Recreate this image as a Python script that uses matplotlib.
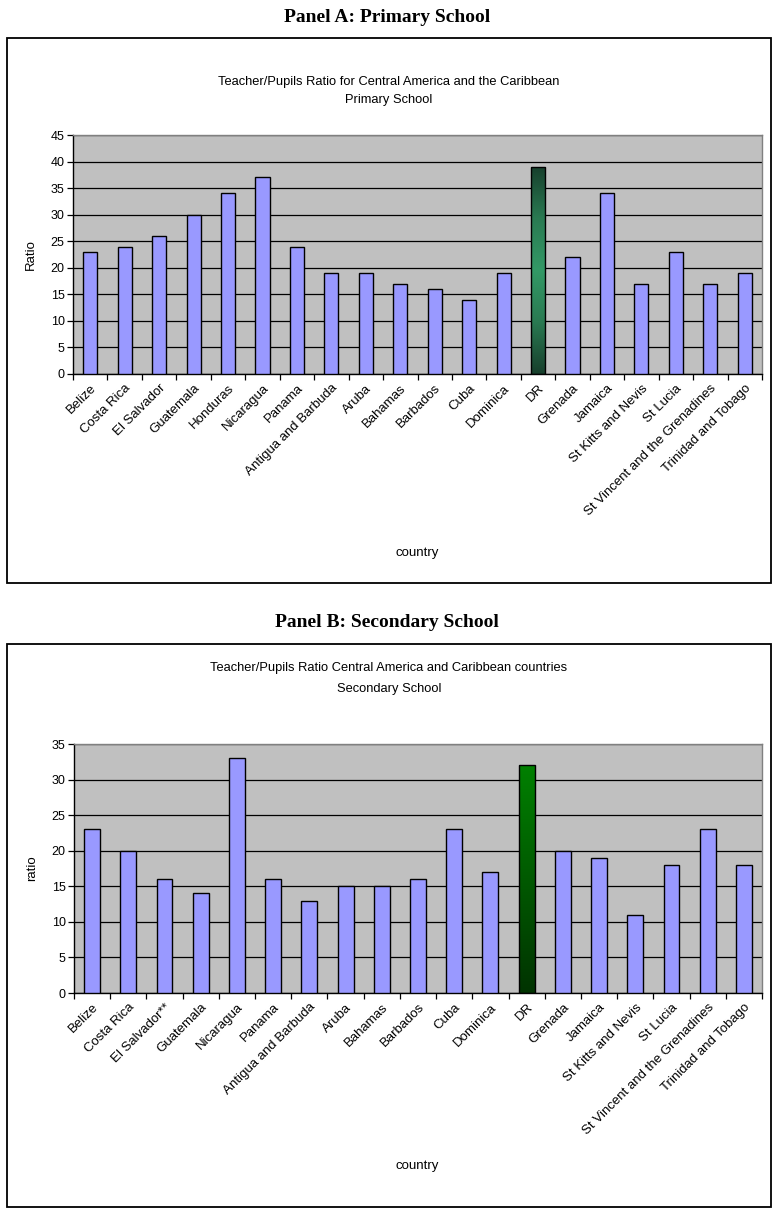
import numpy as np
import matplotlib
matplotlib.use("Agg")
import matplotlib.pyplot as plt
from matplotlib.patches import Rectangle
from matplotlib.colors import LinearSegmentedColormap

# ---- data -------------------------------------------------------------
primary_countries = [
    "Belize", "Costa Rica", "El Salvador", "Guatemala", "Honduras",
    "Nicaragua", "Panama", "Antigua and Barbuda", "Aruba", "Bahamas",
    "Barbados", "Cuba", "Dominica", "DR", "Grenada", "Jamaica",
    "St Kitts and Nevis", "St Lucia", "St Vincent and the Grenadines",
    "Trinidad and Tobago",
]
primary_ratio = [23, 24, 26, 30, 34, 37, 24, 19, 19, 17, 16, 14, 19, 39,
                 22, 34, 17, 23, 17, 19]

secondary_countries = [
    "Belize", "Costa Rica", "El Salvador**", "Guatemala", "Nicaragua",
    "Panama", "Antigua and Barbuda", "Aruba", "Bahamas", "Barbados",
    "Cuba", "Dominica", "DR", "Grenada", "Jamaica", "St Kitts and Nevis",
    "St Lucia", "St Vincent and the Grenadines", "Trinidad and Tobago",
]
secondary_ratio = [23, 20, 16, 14, 33, 16, 13, 15, 15, 16, 23, 17, 32, 20,
                   19, 11, 18, 23, 18]

highlight = "DR"

# ---- figure -----------------------------------------------------------
W, H = 774, 1213
DPI = 100
fig = plt.figure(figsize=(W / DPI, H / DPI), dpi=DPI)
fig.patch.set_facecolor("white")

SANS = ["Liberation Sans", "DejaVu Sans"]
SERIF = ["Liberation Serif", "DejaVu Serif"]


def fx(px):
    return px / W


def fy(py):
    return 1 - py / H


def frame(x0, y0, x1, y1):
    fig.patches.append(Rectangle((fx(x0), fy(y1)), fx(x1 - x0), (y1 - y0) / H,
                                 transform=fig.transFigure, fill=False,
                                 edgecolor="black", linewidth=1.3, zorder=0))


def add_axes_px(x0, y0, x1, y1):
    return fig.add_axes([fx(x0), fy(y1), fx(x1 - x0), (y1 - y0) / H])


def draw_chart(ax, countries, values, ymax, bar_width, cmap, ylabel):
    x = np.arange(len(countries))
    colors = ["#9999FF" if c != highlight else "none" for c in countries]
    bars = ax.bar(x, values, width=bar_width, color=colors,
                  edgecolor="black", linewidth=1.0, zorder=3)
    # gradient fill for the highlighted country
    for c, patch in zip(countries, bars.patches):
        if c == highlight:
            bx, by = patch.get_x(), patch.get_y()
            bw, bh = patch.get_width(), patch.get_height()
            grad = np.linspace(0, 1, 256).reshape(-1, 1)
            im = ax.imshow(grad, extent=(bx, bx + bw, by, by + bh),
                           origin="lower", cmap=cmap, aspect="auto",
                           zorder=2.5, interpolation="bilinear")
            im.set_clip_path(patch)
    ax.set_xlim(-0.5, len(countries) - 0.5)
    ax.set_ylim(0, ymax)
    ax.set_facecolor("#C0C0C0")
    ax.set_yticks(np.arange(0, ymax + 1, 5))
    ax.yaxis.grid(True, color="black", linewidth=0.9, zorder=1)
    ax.set_axisbelow(True)
    ax.set_xticks(x)
    ax.set_xticklabels(countries, rotation=45, ha="right", va="top",
                       rotation_mode="anchor", fontsize=9.5, family=SANS)
    ax.tick_params(axis="x", which="major", length=0, pad=6)
    ax.set_xticks(np.arange(-0.5, len(countries)), minor=True)
    ax.tick_params(axis="x", which="minor", length=4, width=0.9,
                   direction="out", color="black")
    ax.tick_params(axis="y", length=4, width=0.9, direction="out",
                   labelsize=9, pad=2)
    for lab in ax.get_yticklabels():
        lab.set_family(SANS)
    for side in ("top", "right"):
        ax.spines[side].set_color("#808080")
        ax.spines[side].set_linewidth(1.0)
    for side in ("left", "bottom"):
        ax.spines[side].set_color("black")
        ax.spines[side].set_linewidth(1.0)
    ax.set_ylabel(ylabel, fontsize=9.5, family=SANS, labelpad=10)


# ---- Panel A ----------------------------------------------------------
fig.text(fx(387), fy(18), "Panel A: Primary School", ha="center",
         va="center", fontsize=14, fontweight="bold", family=SERIF)
frame(7, 38, 771, 583)
fig.text(fx(389), fy(82), "Teacher/Pupils Ratio for Central America and the Caribbean",
         ha="center", va="center", fontsize=9.3, family=SANS)
fig.text(fx(389), fy(100), "Primary School", ha="center", va="center",
         fontsize=9.3, family=SANS)
axA = add_axes_px(73, 135, 762, 374)
cmapA = LinearSegmentedColormap.from_list(
    "drA", ["#173f2c", "#2a7a52", "#339966", "#2a7a52", "#173f2c"])
draw_chart(axA, primary_countries, primary_ratio, 45, 0.41, cmapA, "Ratio")
fig.text(fx(417), fy(553), "country", ha="center", va="center",
         fontsize=9.5, family=SANS)

# ---- Panel B ----------------------------------------------------------
fig.text(fx(387), fy(622), "Panel B: Secondary School", ha="center",
         va="center", fontsize=14, fontweight="bold", family=SERIF)
frame(7, 644, 771, 1207)
fig.text(fx(389), fy(668), "Teacher/Pupils Ratio Central America and Caribbean countries",
         ha="center", va="center", fontsize=9.3, family=SANS)
fig.text(fx(389), fy(689), "Secondary School", ha="center", va="center",
         fontsize=9.3, family=SANS)
axB = add_axes_px(74, 744, 762, 993)
cmapB = LinearSegmentedColormap.from_list("drB", ["#003300", "#008000"])
draw_chart(axB, secondary_countries, secondary_ratio, 35, 0.44, cmapB, "ratio")
fig.text(fx(417), fy(1166), "country", ha="center", va="center",
         fontsize=9.5, family=SANS)

fig.savefig("out.png", dpi=DPI, facecolor="white")
